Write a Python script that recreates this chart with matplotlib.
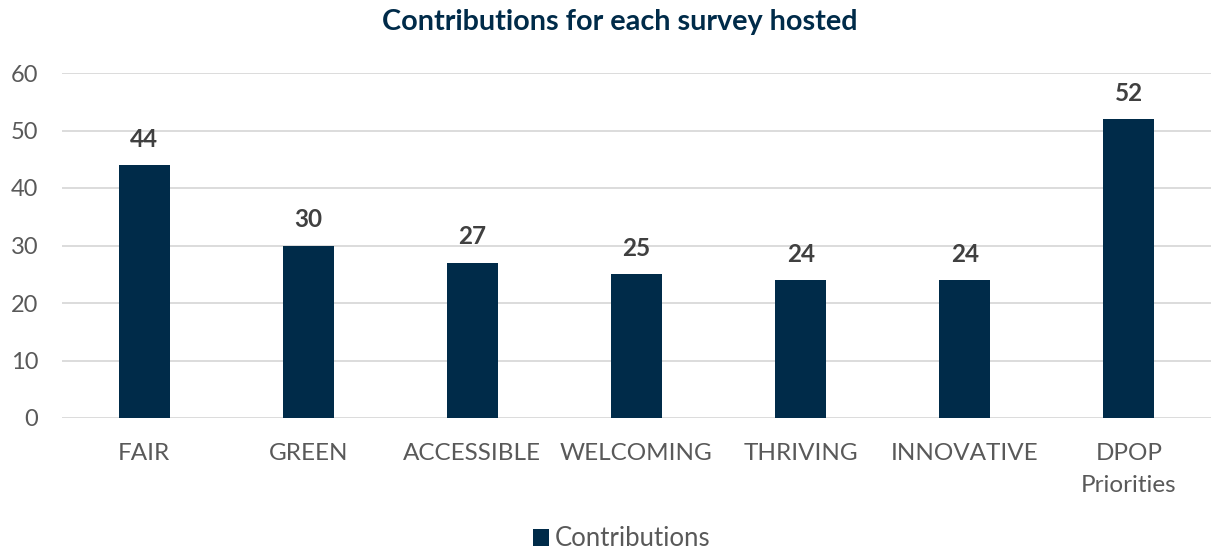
import matplotlib.pyplot as plt
import numpy as np

categories = ["FAIR", "GREEN", "ACCESSIBLE", "WELCOMING", "THRIVING", "INNOVATIVE", "DPOP\nPriorities"]
contributions = [44, 30, 27, 25, 24, 24, 52]
y_ticks = [0, 10, 20, 30, 40, 50, 60]

NAVY = "#002B49"
GREY = "#595959"
GRID = "#D9D9D9"

plt.rcParams["font.family"] = ["Lato", "DejaVu Sans"]

fig = plt.figure(figsize=(12.11, 5.52), dpi=100)
ax = fig.add_axes([62 / 1211, 134 / 552, 1149 / 1211, 345 / 552])

x = np.arange(len(categories))
bars = ax.bar(x, contributions, width=0.31, color=NAVY, label="Contributions", zorder=3)

for xi, v in zip(x, contributions):
    ax.text(xi, v + 2.5, str(v), ha="center", va="bottom", fontsize=17.5,
            fontweight="bold", color="#404040")

ax.set_xlim(-0.5, len(categories) - 0.5)
ax.set_ylim(0, 60)
ax.set_yticks(y_ticks)
ax.set_xticks(x)
ax.set_xticklabels(categories, fontsize=17.5, color=GREY, linespacing=1.62, va="top")
ax.tick_params(axis="y", labelsize=17, labelcolor=GREY, length=0, pad=17)
ax.tick_params(axis="x", length=0, pad=18)
ax.grid(axis="y", color=GRID, linewidth=1.3, zorder=0)
for spine in ax.spines.values():
    spine.set_visible(False)

fig.text(620 / 1211, 1 - 22 / 552, "Contributions for each survey hosted", ha="center", va="center",
         fontsize=20.7, fontweight="bold", color=NAVY)

fig.legend(handles=[bars], labels=["Contributions"], loc="center", bbox_to_anchor=(622 / 1211, 1 - 539 / 552),
           frameon=False, fontsize=18.5, labelcolor=GREY, handlelength=0.6, handleheight=0.6,
           handletextpad=0.25)

fig.savefig("out.png", dpi=100)
